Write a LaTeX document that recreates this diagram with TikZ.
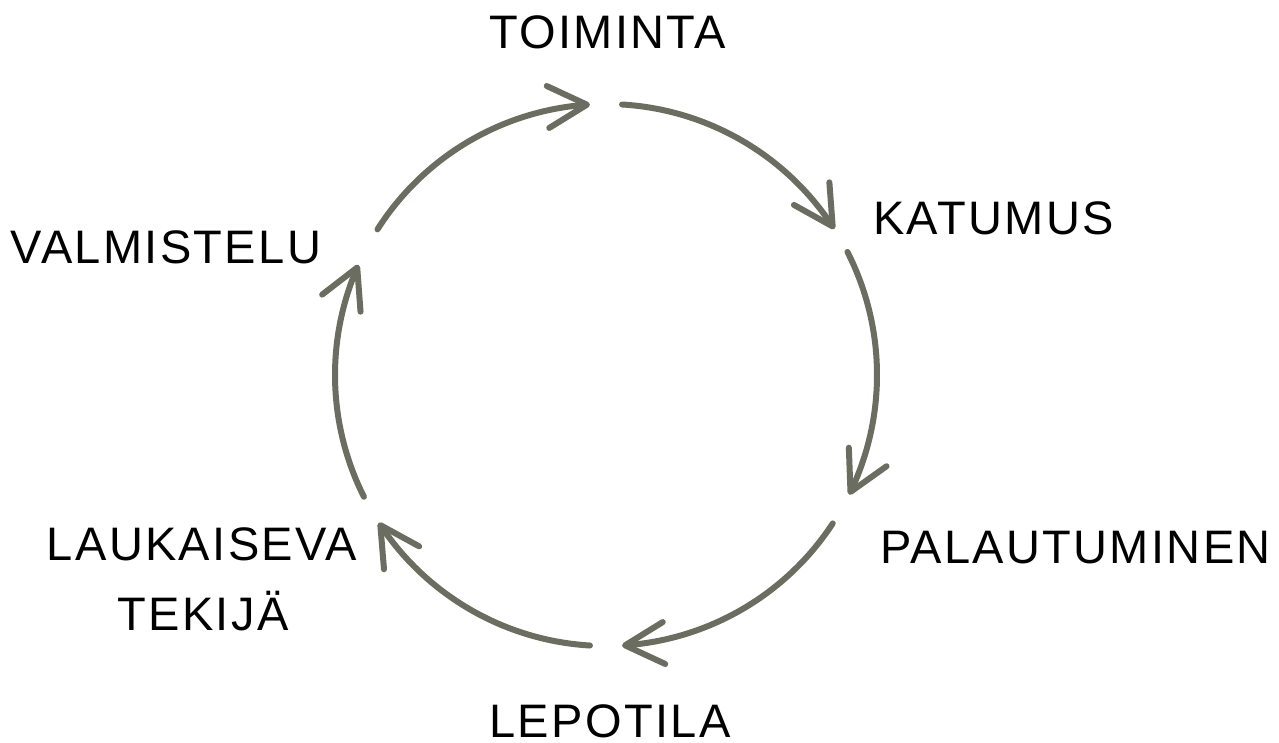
\documentclass[tikz,border=0pt]{standalone}
\usepackage{fontspec}
\setmainfont{Liberation Sans}[LetterSpace=5]
\usetikzlibrary{arrows.meta,bending}
\definecolor{arccol}{HTML}{6A6D5F}
\begin{document}
\begin{tikzpicture}[x=1pt,y=-1pt,
  cyc/.style={draw=arccol, line width=6pt, line cap=round, line join=round,
    -{Straight Barb[length=39pt,width=42pt,line cap=round,line join=round]}},
  lbl/.style={inner sep=0pt, anchor=base, font=\fontsize{47}{56}\selectfont, text=black}]
\useasboundingbox (0,0) rectangle (1279,742);
\coordinate (c) at (606,375);
% text labels
\node[lbl] (toiminta) at (607.5,48) {TOIMINTA};
\node[lbl] (katumus) at (993.5,234) {KATUMUS};
\node[lbl] (palautuminen) at (1075.5,563) {PALAUTUMINEN};
\node[lbl] (lepotila) at (610,737) {LEPOTILA};
\node[lbl] (laukaiseva) at (202,560) {LAUKAISEVA};
\node[lbl] (tekija) at (203,630) {TEKIJÄ};
\node[lbl] (valmistelu) at (166,263) {VALMISTELU};
% arc start points (canvas angles, y up)
\coordinate (s1) at ([shift={(147.5:271pt)}]c);
\coordinate (s2) at ([shift={(86.6:271pt)}]c);
\coordinate (s3) at ([shift={(27:271pt)}]c);
\coordinate (s4) at ([shift={(-33.2:271pt)}]c);
\coordinate (s5) at ([shift={(-93.4:271pt)}]c);
\coordinate (s6) at ([shift={(-153.3:271pt)}]c);
% arcs
\draw[cyc] (s1) arc[start angle=147.5, end angle=93.4, radius=271pt];
\draw[cyc] (s2) arc[start angle=86.6, end angle=32.6, radius=271pt];
\draw[cyc] (s3) arc[start angle=27, end angle=-26.2, radius=271pt];
\draw[cyc] (s4) arc[start angle=-33.2, end angle=-86.6, radius=271pt];
\draw[cyc] (s5) arc[start angle=-93.4, end angle=-147, radius=271pt];
\draw[cyc] (s6) arc[start angle=-153.3, end angle=-204, radius=271pt];
\end{tikzpicture}
\end{document}
